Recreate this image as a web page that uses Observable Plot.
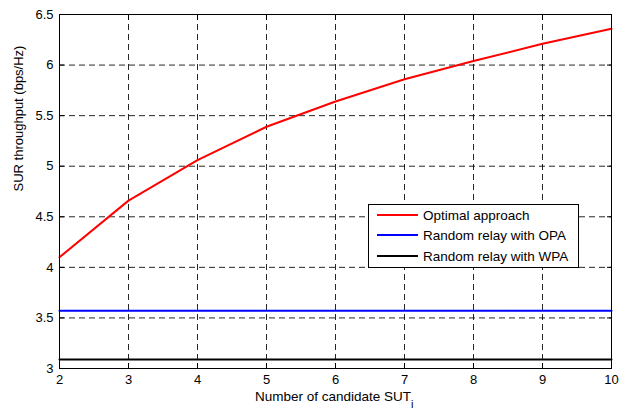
<!DOCTYPE html>
<html><head><meta charset="utf-8">
<script src="https://cdn.jsdelivr.net/npm/d3@7"></script>
<script src="https://cdn.jsdelivr.net/npm/@observablehq/plot@0.6"></script>
<style>
body{margin:0;background:#fff;font-family:"Liberation Sans",Arial,sans-serif;}
#wrap{position:relative;width:626px;height:411px;overflow:hidden;}
#wrap svg{display:block;}
.legend{position:absolute;left:368px;top:204px;width:211px;height:64px;border:1px solid #000;background:#fff;box-sizing:border-box;font-size:13.5px;color:#000;}
.legend .item{position:absolute;left:8px;height:14px;line-height:14px;white-space:nowrap;}
.legend .sw{display:inline-block;width:41px;height:2px;vertical-align:middle;margin-right:5px;position:relative;top:-1px;}
.xlabel{position:absolute;left:255px;top:390px;font-size:13.5px;line-height:14px;color:#000;white-space:nowrap;}
.xlabel sub{font-size:11px;vertical-align:-7px;line-height:0;}
</style></head><body><div id="wrap"></div>
<script>
const candidates = [2, 3, 4, 5, 6, 7, 8, 9, 10];
const optimal = [4.1, 4.66, 5.06, 5.39, 5.64, 5.86, 6.04, 6.21, 6.36];
const randomOPA = [3.57, 3.57, 3.57, 3.57, 3.57, 3.57, 3.57, 3.57, 3.57];
const randomWPA = [3.09, 3.09, 3.09, 3.09, 3.09, 3.09, 3.09, 3.09, 3.09];
const seriesNames = ["Optimal approach", "Random relay with OPA", "Random relay with WPA"];
const seriesColors = ["#ff0000", "#0000ff", "#000000"];
const xTicks = [2, 3, 4, 5, 6, 7, 8, 9, 10];
const yTicks = [3, 3.5, 4, 4.5, 5, 5.5, 6, 6.5];
const yTickLabels = ["3", "3.5", "4", "4.5", "5", "5.5", "6", "6.5"];
const xLabel = "Number of candidate SUT";
const xLabelSub = "i";
const yLabel = "SUR throughput (bps/Hz)";

const seriesValues = [optimal, randomOPA, randomWPA];
const rows = [];
seriesValues.forEach((vals, s) => {
  candidates.forEach((c, i) => rows.push({x: c, y: vals[i], series: seriesNames[s]}));
});

const gridStyle = {stroke: "#000", strokeOpacity: 0.85, strokeDasharray: "6,4", strokeWidth: 1};
const blank = () => "";

const chart = Plot.plot({
  width: 626, height: 411,
  marginTop: 14, marginLeft: 59, marginRight: 15, marginBottom: 43,
  style: {fontFamily: "'Liberation Sans', Arial, sans-serif", fontSize: "13px", color: "#000", background: "#fff"},
  x: {domain: [2, 10], label: null},
  y: {domain: [3, 6.5], label: null},
  color: {domain: seriesNames, range: seriesColors},
  marks: [
    Plot.gridX(xTicks.slice(1, -1), gridStyle),
    Plot.gridY(yTicks.slice(1, -1), gridStyle),
    Plot.lineY(rows, {x: "x", y: "y", z: "series", stroke: "series", strokeWidth: 2}),
    Plot.frame({stroke: "#000", strokeWidth: 1}),
    Plot.axisX(xTicks, {tickSize: 0, tickPadding: 6, label: null, fontSize: 13, tickFormat: d => String(d)}),
    Plot.axisY(yTicks, {tickSize: 0, tickPadding: 6, label: null, fontSize: 13, tickFormat: d => yTickLabels[yTicks.indexOf(d)]}),
    Plot.axisX(xTicks, {anchor: "bottom", tickSize: -5, label: null, tickFormat: blank}),
    Plot.axisX(xTicks, {anchor: "top", tickSize: -5, label: null, tickFormat: blank}),
    Plot.axisY(yTicks, {anchor: "left", tickSize: -5, label: null, tickFormat: blank}),
    Plot.axisY(yTicks, {anchor: "right", tickSize: -5, label: null, tickFormat: blank}),
    Plot.text([yLabel], {frameAnchor: "left", dx: -41, rotate: -90, fontSize: 13, fill: "#000"})
  ]
});

const wrap = document.getElementById("wrap");
wrap.appendChild(chart);

const xl = document.createElement("div");
xl.className = "xlabel";
xl.innerHTML = xLabel + "<sub>" + xLabelSub + "</sub>";
wrap.appendChild(xl);

const lg = document.createElement("div");
lg.className = "legend";
const tops = [3.5, 24, 44.5];
seriesNames.forEach((name, i) => {
  const it = document.createElement("div");
  it.className = "item";
  it.style.top = tops[i] + "px";
  it.innerHTML = '<span class="sw" style="background:' + seriesColors[i] + '"></span>' + name;
  lg.appendChild(it);
});
wrap.appendChild(lg);
</script>
</body></html>
